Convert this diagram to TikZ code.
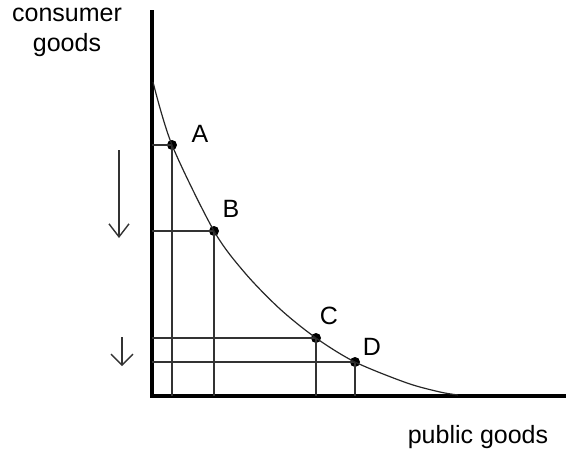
\documentclass[tikz,border=0pt]{standalone}
\usepackage{fontspec}
\setmainfont{Liberation Sans}
\usepackage{tikz}
\usetikzlibrary{arrows.meta, positioning}

\begin{document}
\begin{tikzpicture}[
  x=1pt, y=-1pt,
  font=\fontsize{25}{30}\selectfont,
  axis/.style={line width=3.2pt, black},
  guide/.style={line width=1.6pt, black!80},
  curve/.style={line width=1.2pt, black!85},
  pt/.style={circle, fill=black, inner sep=0pt, minimum size=10pt},
  lab/.style={inner sep=1pt},
  downarrow/.style={line width=1.4pt, black!80, -{Straight Barb[length=13pt, width=20pt, line width=1.4pt]}},
]
\useasboundingbox (0,0) rectangle (566,453);

% ============ axes ============
\coordinate (O)    at (152,396);
\coordinate (ytop) at (152,10);
\coordinate (xend) at (566,396);
\draw[axis] (ytop) -- (O) -- (xend);

\node[align=center] (ylab) at (67,32) {consumer\\goods};
\node (xlab) at (478,437) {public goods};

% ============ points on the frontier ============
\node[pt] (A) at (172,145) {};
\node[pt] (B) at (214,231) {};
\node[pt] (C) at (316,338) {};
\node[pt] (D) at (355,362) {};
\coordinate (c0) at (153,82);
\coordinate (c1) at (245,273);
\coordinate (c2) at (280,309);
\coordinate (c3) at (407,383);
\coordinate (c4) at (440,392);
\coordinate (c5) at (458,395);

\node[lab] at (200,134) {A};
\node[lab] at (231,209) {B};
\node[lab] at (329,316) {C};
\node[lab] at (372,347) {D};

% guide lines to both axes
\foreach \p in {A,B,C,D} {
  \draw[guide] (\p.center) -- (\p.center |- O);
  \draw[guide] (\p.center) -- (\p.center -| O);
}

% the frontier
\draw[curve] plot[smooth, tension=0.5] coordinates {(c0) (A.center) (B.center) (c1) (c2) (C.center) (D.center) (c3) (c4) (c5)};

% ============ arrows on the left ============
\coordinate (a1s) at (119,150);
\coordinate (a1e) at (119,238);
\coordinate (a2s) at (122,337);
\coordinate (a2e) at (122,366);
\draw[downarrow] (a1s) -- (a1e);
\draw[downarrow, -{Straight Barb[length=11pt, width=22pt, line width=1.4pt]}] (a2s) -- (a2e);

\end{tikzpicture}
\end{document}
